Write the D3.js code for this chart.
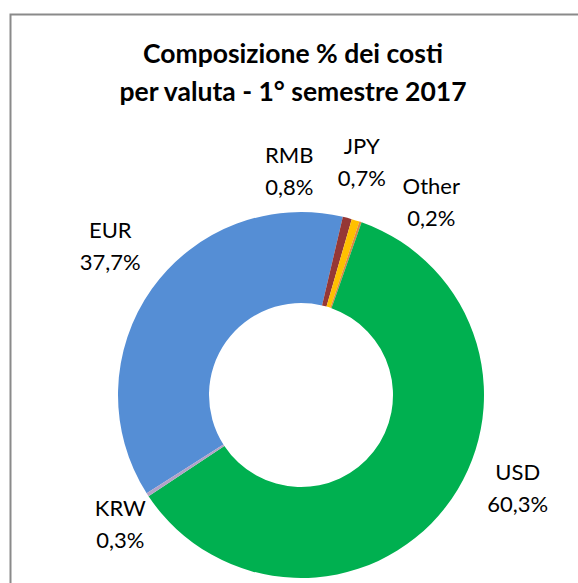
<!DOCTYPE html>
<html>
<head>
<meta charset="utf-8">
<script src="https://cdn.jsdelivr.net/npm/d3@7"></script>
<style>
  html, body { margin: 0; padding: 0; background: #fff; }
  svg { display: block; font-family: Lato, "Open Sans", sans-serif; }
</style>
</head>
<body>
<svg id="chart" width="578" height="583"></svg>
<script>
// data, clockwise from the EUR slice
const currencies = ["EUR", "RMB", "JPY", "Other", "USD", "KRW"];
const shares = [37.7, 0.8, 0.7, 0.2, 60.3, 0.3];
const colors = ["#558ed5", "#953735", "#ffc000", "#e0873f", "#00b050", "#b3a2c7"];
const titleLines = ["Composizione % dei costi", "per valuta - 1° semestre 2017"];

// label placement (polar, relative to the donut centre), like Excel's manual layout
const labelAngle = [-52, -3, 14.6, 34, 113.3, -125.5];
const labelRadius = [242, 224, 241, 233, 236, 222];

const WIDTH = 578, HEIGHT = 583;
const CX = 301, CY = 395, R_OUT = 183, R_IN = 92;
const START = (-122.5 * Math.PI) / 180;

const svg = d3.select("#chart");

// chart area border (runs off the right and bottom edges)
svg.append("rect")
  .attr("x", 10.5).attr("y", 14.5)
  .attr("width", WIDTH).attr("height", HEIGHT)
  .attr("fill", "none")
  .attr("stroke", "#8a8a8a")
  .attr("stroke-width", 2);

// title
svg.append("g")
  .selectAll("text")
  .data(titleLines)
  .join("text")
  .attr("x", 293)
  .attr("y", (d, i) => 63 + i * 38)
  .attr("text-anchor", "middle")
  .attr("font-size", 26.5)
  .attr("font-weight", "bold")
  .attr("fill", "#000")
  .text((d) => d);

const it = d3.formatLocale({ decimal: ",", thousands: ".", grouping: [3], currency: ["€", ""] });
const fmt = it.format(".1f");

const rows = currencies.map((c, i) => ({ name: c, value: shares[i], color: colors[i], i }));

const pie = d3.pie()
  .sort(null)
  .value((d) => d.value)
  .startAngle(START)
  .endAngle(START + 2 * Math.PI);

const arc = d3.arc().innerRadius(R_IN).outerRadius(R_OUT);

const g = svg.append("g").attr("transform", `translate(${CX},${CY})`);

g.selectAll("path")
  .data(pie(rows))
  .join("path")
  .attr("d", arc)
  .attr("fill", (d) => d.data.color);

// data labels
const labels = g.selectAll(".lbl")
  .data(rows)
  .join("text")
  .attr("class", "lbl")
  .attr("text-anchor", "middle")
  .attr("font-size", 22)
  .attr("fill", "#000")
  .attr("transform", (d) => {
    const a = (labelAngle[d.i] * Math.PI) / 180;
    const r = labelRadius[d.i];
    return `translate(${r * Math.sin(a)},${-r * Math.cos(a)})`;
  });

labels.append("tspan").attr("x", 0).attr("y", -8).text((d) => d.name);
labels.append("tspan").attr("x", 0).attr("y", 24).text((d) => fmt(d.value) + "%");
</script>
</body>
</html>
